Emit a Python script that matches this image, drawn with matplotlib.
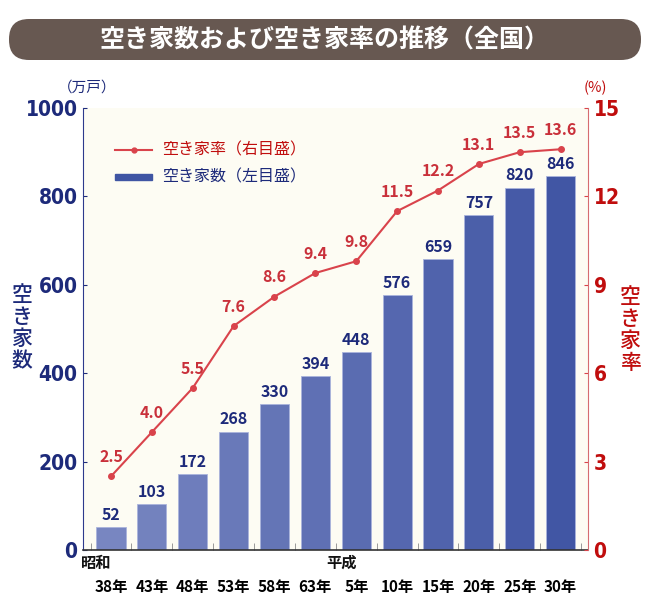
import matplotlib.pyplot as plt
import numpy as np
from matplotlib.patches import FancyBboxPatch, Rectangle
from matplotlib.colors import to_rgb

plt.rcParams['font.family'] = ['Noto Sans CJK JP', 'DejaVu Sans']

# データ（住宅・土地統計調査）
nendo = ['38年', '43年', '48年', '53年', '58年', '63年',
         '5年', '10年', '15年', '20年', '25年', '30年']
akiya_su = [52, 103, 172, 268, 330, 394, 448, 576, 659, 757, 820, 846]      # 万戸
akiya_ritsu = [2.5, 4.0, 5.5, 7.6, 8.6, 9.4, 9.8, 11.5, 12.2, 13.1, 13.5, 13.6]  # %
gengo = ['昭和', '平成']
gengo_idx = [0, 6]

navy = '#1d2a7a'
red_line = '#d9434b'
red_lab = '#c9303a'
red_tick = '#c00d0d'
crema = '#fdfcf3'

W, H = 650, 605
fig = plt.figure(figsize=(W / 100, H / 100), dpi=100)

ax = fig.add_axes([83 / W, 55 / H, 505 / W, 442 / H])
ax.set_facecolor(crema)
x = np.arange(len(nendo))

c0 = np.array(to_rgb('#7886c1'))
c1 = np.array(to_rgb('#4156a4'))
colores = [c0 + (c1 - c0) * t for t in np.linspace(0, 1, len(x))]
barras = ax.bar(x, akiya_su, width=0.71, color=colores, edgecolor='#aab4dc',
                linewidth=0.6, zorder=2)
for xi, v in zip(x, akiya_su):
    ax.annotate(str(v), (xi, v), xytext=(0, 3), textcoords='offset points',
                ha='center', va='bottom', color=navy, fontsize=11.5,
                fontweight='bold', zorder=5)

ax.set_xlim(-0.685, len(x) - 1 + 0.67)
ax.set_ylim(0, 1000)
ax.set_yticks(range(0, 1001, 200))
ax.tick_params(axis='y', direction='in', length=3, color=navy, labelcolor=navy,
               labelsize=15, pad=4)
for t in ax.get_yticklabels():
    t.set_fontweight('bold')
    t.set_family('DejaVu Sans')
    t.set_fontstretch('condensed')

ax.set_xticks(x, nendo)
ax.set_xticks(np.r_[x - 0.5, x[-1] + 0.5], minor=True)
ax.tick_params(axis='x', which='major', length=0, pad=21, labelsize=11)
ax.tick_params(axis='x', which='minor', direction='in', length=5, color='#8a8a8a')
for t in ax.get_xticklabels():
    t.set_fontweight('bold')

for g, i in zip(gengo, gengo_idx):
    ax.text(i + 0.02, -13 / 442, g, transform=ax.get_xaxis_transform(),
            ha='right', va='center', fontsize=11, fontweight='bold', color='#111111')

ax.spines['top'].set_visible(False)
ax.spines['right'].set_visible(False)
ax.spines['left'].set_color('#2d3a8c')
ax.spines['bottom'].set_color('#333333')
ax.spines['bottom'].set_linewidth(1.2)

ax2 = ax.twinx()
ax2.plot(x, akiya_ritsu, color=red_line, lw=1.5, marker='o', ms=4, zorder=4)
for xi, v in zip(x, akiya_ritsu):
    ax2.annotate(f'{v:.1f}', (xi, v), xytext=(0, 8), textcoords='offset points',
                 ha='center', va='bottom', color=red_lab, fontsize=11.5,
                 fontweight='bold')
ax2.set_ylim(0, 15)
ax2.set_yticks(range(0, 16, 3))
ax2.tick_params(axis='y', direction='in', length=3, color=red_line,
                labelcolor=red_tick, labelsize=15, pad=4)
for t in ax2.get_yticklabels():
    t.set_fontweight('bold')
    t.set_family('DejaVu Sans')
    t.set_fontstretch('condensed')
ax2.spines['top'].set_visible(False)
ax2.spines['left'].set_visible(False)
ax2.spines['bottom'].set_visible(False)
ax2.spines['right'].set_color('#d66c70')

# 重ね描き用（ピクセル座標）
ov = fig.add_axes([0, 0, 1, 1], zorder=10)
ov.set_xlim(0, W)
ov.set_ylim(H, 0)
ov.axis('off')
ov.patch.set_visible(False)

ov.add_patch(FancyBboxPatch((9, 19), 632, 41, boxstyle='round,pad=0,rounding_size=20',
                            fc='#675851', ec='none'))
ov.text(325, 40, '空き家数および空き家率の推移（全国）', color='white', fontsize=18,
        fontweight='bold', ha='center', va='center')

ov.text(87, 88, '（万戸）', color=navy, fontsize=10.5, ha='center', va='center')
ov.text(595, 88, '(%)', color=red_tick, fontsize=10.5, ha='center', va='center')

ov.text(22, 328, '空\nき\n家\n数', color=navy, fontsize=15, ha='center', va='center',
        linespacing=1.0, fontweight='medium')
ov.text(630, 330, '空\nき\n家\n率', color=red_tick, fontsize=15, ha='center', va='center',
        linespacing=1.0, fontweight='medium')

# 凡例
ov.plot([115, 152], [150, 150], color=red_line, lw=1.5)
ov.plot([133.5], [150], 'o', color=red_line, ms=3.5)
ov.text(162, 150, '空き家率（右目盛）', color=red_tick, fontsize=11.5, va='center')
ov.add_patch(Rectangle((115, 174), 37, 6, color='#3f55a3'))
ov.text(162, 177, '空き家数（左目盛）', color=navy, fontsize=11.5, va='center')

fig.savefig('out.png', dpi=100)
